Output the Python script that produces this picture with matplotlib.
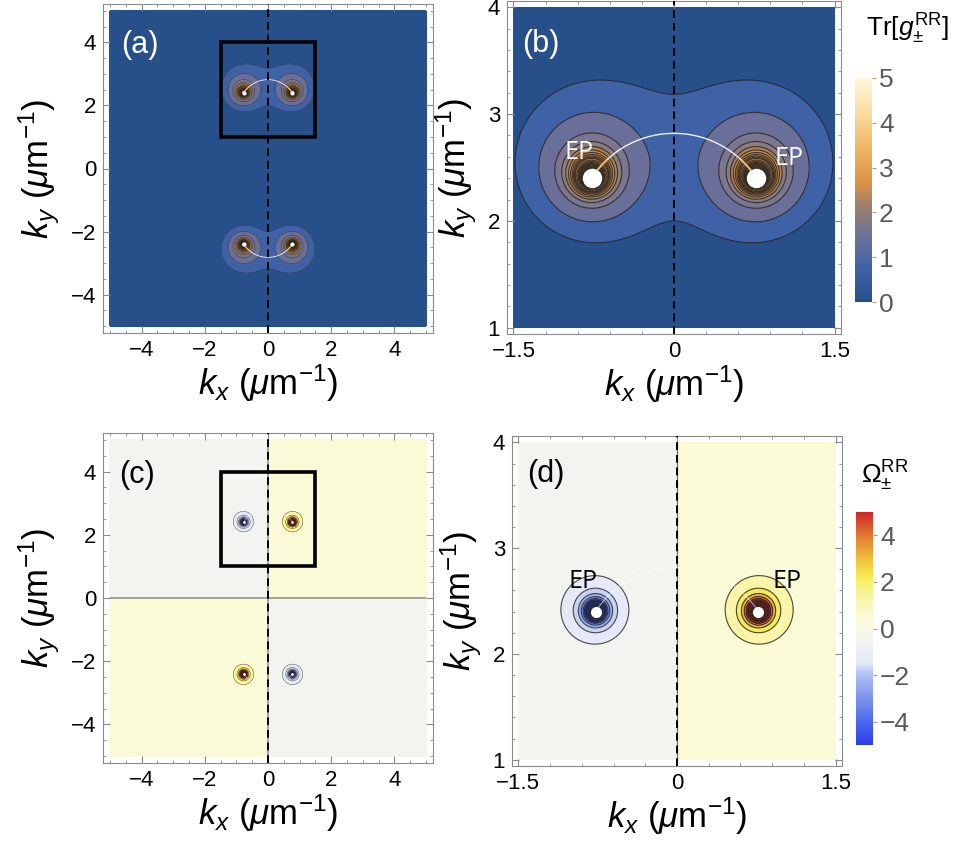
import numpy as np
import matplotlib
matplotlib.use('Agg')
import matplotlib.pyplot as plt
from matplotlib.colors import LinearSegmentedColormap, Normalize
from matplotlib.cm import ScalarMappable
from matplotlib.patches import Rectangle
from matplotlib.ticker import MultipleLocator, FixedLocator, FuncFormatter

plt.rcParams['font.family'] = ['Liberation Sans', 'DejaVu Sans']
plt.rcParams['mathtext.fontset'] = 'custom'
plt.rcParams['mathtext.rm'] = 'Liberation Sans'
plt.rcParams['mathtext.it'] = 'Liberation Sans:italic'
plt.rcParams['mathtext.bf'] = 'Liberation Sans:bold'
plt.rcParams['contour.negative_linestyle'] = 'solid'

# exceptional points (upper pair, lower pair is the mirror in ky)
ep_kx = [-0.77, 0.77]
ep_ky = [2.4, 2.4]
ep_curv_sign = [-1, 1]        # sign of Omega at the upper EPs
arc_apex = 2.82               # ky where the arc between the EPs crosses kx=0
zoom_box = [-1.5, 1.5, 1.0, 4.0]

# local shape of the two fields around an EP: amplitude, power, eccentricity
g_amp, g_pow, g_ecc = 0.218, 2.0, 0.2
om_amp, om_pow, om_ecc = 0.2026, 1.5, 0.05

g_levels = [0.5, 1, 2, 3, 4, 5, 6, 7, 8, 9, 10, 12, 14, 16, 18, 20, 23, 26, 30, 35, 40, 50]
om_levels = [1, 2, 3, 4, 5, 6, 7, 8, 10, 12, 15, 20, 25, 30, 40]

# colour bar gradients
g_colors = ['#27508a', '#3f62a6', '#6f7399', '#a2816a', '#dc9445',
            '#f0b768', '#fbdfa6', '#fff6da']
g_nodes = [0.0, 0.75, 1.5, 2.2, 2.7, 3.5, 4.3, 5.0]
om_colors = ['#2a3ee6', '#4d69ea', '#aebff2', '#e3e8f7', '#f3f4f0',
             '#fbfad6', '#f8f49c', '#f5ec55', '#efc03c', '#e27a34', '#cf2727']
om_nodes = [-5, -4, -2, -1.5, -0.5, 0.5, 1.5, 2.2, 3, 4, 5]

# fill shades of the contour bands (from the outside in)
g_band_colors = ['#27508a', '#3f61a6', '#6a6f9a', '#7b7690', '#8c7c7e', '#a5835f']
g_band_inner = '#c98b4c'
om_pos_bands = ['#fbfad6', '#faf5a8', '#f5ea5c', '#e8b545', '#d87838']
om_pos_inner = '#c83028'
om_neg_bands = ['#f3f4ef', '#e6eaf8', '#c9d2f3', '#9aacef', '#6f88ea']
om_neg_inner = '#3a55e4'


def make_cmap(nodes, colors, name):
    lo, hi = nodes[0], nodes[-1]
    pos = [(n - lo) / (hi - lo) for n in nodes]
    return LinearSegmentedColormap.from_list(name, list(zip(pos, colors)))


g_cmap = make_cmap(g_nodes, g_colors, 'gdens')
om_cmap = make_cmap(om_nodes, om_colors, 'omega')
g_norm = Normalize(0, 5)
om_norm = Normalize(-5, 5)

all_eps = [(x, y, s) for x, y, s in zip(ep_kx, ep_ky, ep_curv_sign)] + \
          [(x, -y, -s) for x, y, s in zip(ep_kx, ep_ky, ep_curv_sign)]


def r_eff(KX, KY, x0, y0, ecc):
    dx = KX - x0
    dy = (KY - y0) * np.sign(y0)
    return np.hypot(dx, dy) - ecc * dy


def fields(xr, yr, n):
    kx = np.linspace(xr[0], xr[1], n)
    ky = np.linspace(yr[0], yr[1], n)
    KX, KY = np.meshgrid(kx, ky)
    G = np.zeros_like(KX)
    OM = np.zeros_like(KX)
    for x0, y0, s in all_eps:
        G += g_amp / r_eff(KX, KY, x0, y0, g_ecc) ** g_pow
        OM += s * om_amp / r_eff(KX, KY, x0, y0, om_ecc) ** om_pow
    return KX, KY, np.clip(G, 0, 500), np.clip(OM, -500, 500)


def arc_points(sign):
    # circle through both EPs and the apex on kx=0
    x1, y1 = ep_kx[1], ep_ky[1]
    R = (x1 ** 2 + (arc_apex - y1) ** 2) / (2 * (arc_apex - y1))
    yc = arc_apex - R
    t0 = np.arctan2(y1 - yc, x1)
    t = np.linspace(t0, np.pi - t0, 200)
    return R * np.cos(t), sign * (yc + R * np.sin(t))


def draw_arcs(ax, lw, alpha, near):
    for sgn in [1, -1]:
        ax_, ay_ = arc_points(sgn)
        ax.plot(ax_, ay_, color='white', lw=lw, alpha=alpha, zorder=4)
        for x0 in ep_kx:
            m = np.hypot(ax_ - x0, ay_ - sgn * ep_ky[0]) < near
            ax.plot(ax_[m], ay_[m], color='#f2b45a', lw=lw * 1.3, alpha=alpha, zorder=4)


def tick_fmt(v, pos):
    return ('%g' % v).replace('-', '\u2212')


def style_axes(ax, xmaj, xmin, ymaj, ymin, lim):
    ax.set_xlim(lim[0], lim[1])
    ax.set_ylim(lim[2], lim[3])
    ax.xaxis.set_major_locator(FixedLocator(xmaj))
    ax.yaxis.set_major_locator(FixedLocator(ymaj))
    ax.xaxis.set_major_formatter(FuncFormatter(tick_fmt))
    ax.yaxis.set_major_formatter(FuncFormatter(tick_fmt))
    ax.xaxis.set_minor_locator(MultipleLocator(xmin))
    ax.yaxis.set_minor_locator(MultipleLocator(ymin))
    ax.tick_params(which='both', direction='in', top=True, right=True,
                   color='#8a8a8a', labelsize=16, pad=5)
    ax.tick_params(which='major', length=5, width=0.8)
    ax.tick_params(which='minor', length=2.5, width=0.6)
    for s in ax.spines.values():
        s.set_color('#8a8a8a')
        s.set_linewidth(0.8)
    ax.set_xlabel(r'$k_x$ ($\mu$m$^{-1}$)', fontsize=25, labelpad=1)
    ax.set_ylabel(r'$k_y$ ($\mu$m$^{-1}$)', fontsize=25, labelpad=6)
    ax.axvline(0, color='black', lw=1.4, ls=(0, (4, 2.5)), zorder=5)


def plot_g(ax, xr, yr, n, lw):
    KX, KY, G, _ = fields(xr, yr, n)
    lv = [0] + g_levels + [1e4]
    nb = len(lv) - 1
    cols = g_band_colors + [g_band_inner] * (nb - len(g_band_colors))
    ax.contourf(KX, KY, G, levels=lv, colors=cols, zorder=1)
    ax.contour(KX, KY, G, levels=g_levels, colors='#1e1e1e', linewidths=lw,
               alpha=0.8, zorder=2)


def plot_om(ax, xr, yr, n, lw):
    KX, KY, _, OM = fields(xr, yr, n)
    neg = [-v for v in om_levels[::-1]]
    lv = [-1e4] + neg + [0] + om_levels + [1e4]
    nside = len(om_levels) + 1
    pos_cols = om_pos_bands + [om_pos_inner] * (nside - len(om_pos_bands))
    neg_cols = om_neg_bands + [om_neg_inner] * (nside - len(om_neg_bands))
    ax.contourf(KX, KY, OM, levels=lv, colors=neg_cols[::-1] + pos_cols, zorder=1)
    ax.contour(KX, KY, OM, levels=neg + om_levels, colors='#1e1e1e',
               linewidths=lw, alpha=0.8, zorder=2)
    ax.contour(KX, KY, OM, levels=[0], colors='#707070', linewidths=0.9, zorder=2)


W, H = 955, 861
fig = plt.figure(figsize=(W / 100, H / 100), dpi=100)


def px_axes(x0, y0, x1, y1):
    return fig.add_axes([x0 / W, 1 - y1 / H, (x1 - x0) / W, (y1 - y0) / H])


full_lim = [-5.22, 5.22, -5.22, 5.22]
zoom_lim = [-1.56, 1.56, 0.94, 4.06]
ep_font = ['Open Sans', 'DejaVu Sans']

# (a)
ax_a = px_axes(103, 4, 433, 333)
plot_g(ax_a, (-5, 5), (-5, 5), 1400, 0.35)
draw_arcs(ax_a, 0.6, 0.9, 0.25)
ax_a.plot(ep_kx * 2, ep_ky + [-y for y in ep_ky], 'o', color='white', ms=3, mec='none', zorder=6)
ax_a.add_patch(Rectangle((zoom_box[0], zoom_box[2]), zoom_box[1] - zoom_box[0],
                         zoom_box[3] - zoom_box[2], fill=False, lw=2.6, ec='black', zorder=7))
style_axes(ax_a, [-4, -2, 0, 2, 4], 0.5, [-4, -2, 0, 2, 4], 0.5, full_lim)
ax_a.text(0.055, 0.875, '(a)', transform=ax_a.transAxes, color='white',
          fontsize=22, va='center')

# (b)
ax_b = px_axes(507, 1, 841, 334)
plot_g(ax_b, (-1.5, 1.5), (1, 4), 1000, 0.8)
draw_arcs(ax_b, 1.0, 0.9, 0.22)
ax_b.plot(ep_kx, ep_ky, 'o', color='white', ms=14, mec='none', zorder=6)
style_axes(ax_b, [-1.5, 0, 1.5], 0.3, [1, 2, 3, 4], 0.2, zoom_lim)
ax_b.text(0.045, 0.872, '(b)', transform=ax_b.transAxes, color='white',
          fontsize=22, va='center')
ax_b.text(-0.89, 2.64, 'EP', color='white', fontsize=18, ha='center', va='center',
          family=ep_font, zorder=8)
ax_b.text(1.07, 2.58, 'EP', color='white', fontsize=18, ha='center', va='center',
          family=ep_font, zorder=8)

# (c)
ax_c = px_axes(103, 433, 433, 763)
plot_om(ax_c, (-5, 5), (-5, 5), 1400, 0.35)
draw_arcs(ax_c, 0.5, 0.5, 0.0)
ax_c.plot(ep_kx * 2, ep_ky + [-y for y in ep_ky], 'o', color='white', ms=2, mec='none', zorder=6)
ax_c.add_patch(Rectangle((zoom_box[0], zoom_box[2]), zoom_box[1] - zoom_box[0],
                         zoom_box[3] - zoom_box[2], fill=False, lw=2.6, ec='black', zorder=7))
style_axes(ax_c, [-4, -2, 0, 2, 4], 0.5, [-4, -2, 0, 2, 4], 0.5, full_lim)
ax_c.text(0.05, 0.874, '(c)', transform=ax_c.transAxes, color='black',
          fontsize=22, va='center')

# (d)
ax_d = px_axes(512, 436, 842, 766)
plot_om(ax_d, (-1.5, 1.5), (1, 4), 1000, 0.8)
draw_arcs(ax_d, 0.9, 0.5, 0.0)
ax_d.plot(ep_kx, ep_ky, 'o', color='white', ms=8, mec='none', zorder=6)
style_axes(ax_d, [-1.5, 0, 1.5], 0.3, [1, 2, 3, 4], 0.2, zoom_lim)
ax_d.text(0.045, 0.885, '(d)', transform=ax_d.transAxes, color='black',
          fontsize=22, va='center')
ax_d.text(-0.89, 2.68, 'EP', color='black', fontsize=18, ha='center', va='center',
          family=ep_font, zorder=8)
ax_d.text(1.04, 2.68, 'EP', color='black', fontsize=18, ha='center', va='center',
          family=ep_font, zorder=8)

# colour bars
for (x0, y0, x1, y1), cmap, norm, ticks, title, tx, ty in [
        ((855, 78, 872, 302), g_cmap, g_norm, [0, 1, 2, 3, 4, 5],
         r'Tr[$g_{\pm}^{\mathrm{RR}}$]', 907, 29),
        ((856, 512, 873, 745), om_cmap, om_norm, [-4, -2, 0, 2, 4],
         r'$\Omega_{\pm}^{\mathrm{RR}}$', 885, 476)]:
    cax = px_axes(x0, y0, x1, y1)
    cb = fig.colorbar(ScalarMappable(norm=norm, cmap=cmap), cax=cax, ticks=ticks,
                      format=FuncFormatter(tick_fmt))
    cb.outline.set_visible(False)
    cb.ax.tick_params(length=3, color='#9a9a9a', labelcolor='#5a5a5a',
                      labelsize=19, pad=2)
    fig.text(tx / W, 1 - ty / H, title, fontsize=19, ha='center', va='center')

fig.savefig('out.png', dpi=100, facecolor='white')
